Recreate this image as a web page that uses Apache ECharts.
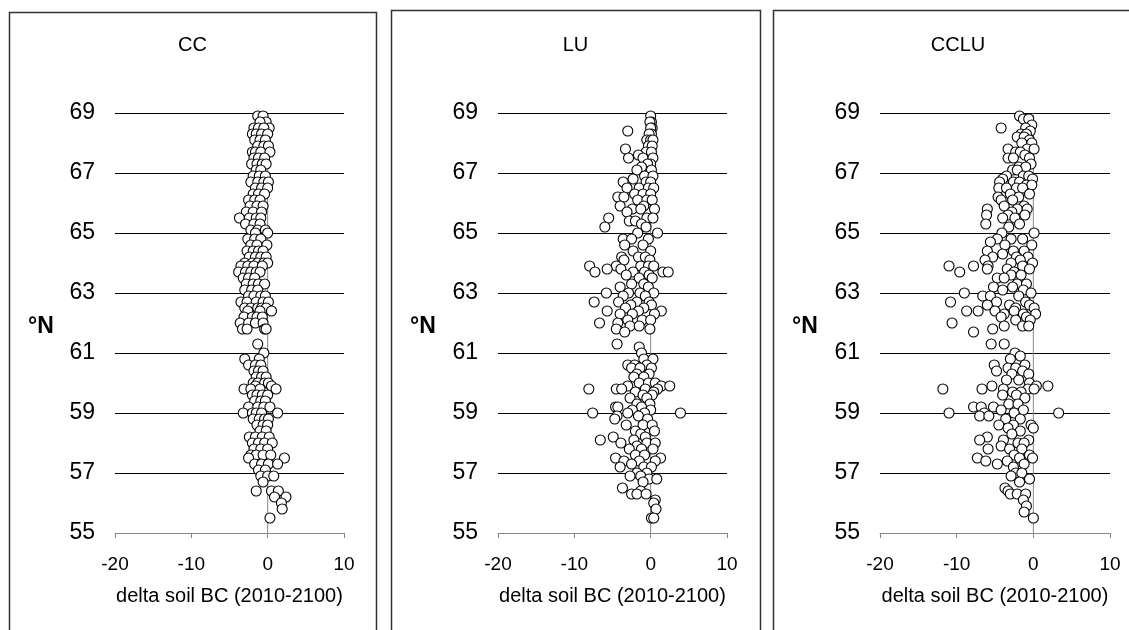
<!DOCTYPE html>
<html>
<head>
<meta charset="utf-8">
<script src="https://cdn.jsdelivr.net/npm/echarts@6/dist/echarts.min.js"></script>
<style>
html,body{margin:0;padding:0;background:#fff;}
#chart{width:1129px;height:630px;}
</style>
</head>
<body>
<div id="chart"></div>
<script>
// ---------- DATA ----------
const panelTitles = ['CC', 'LU', 'CCLU'];
const xTickValues = [-20, -10, 0, 10];
const yTickValues = [55, 57, 59, 61, 63, 65, 67, 69];
const xAxisTitle = 'delta soil BC (2010-2100)';
const yAxisTitle = '°N';

// rows: [latitude (°N), [delta soil BC values at that latitude]]
const ccRows = [
  [68.9, [-1.3, -0.6]], [68.7, [-0.2, -1.0]], [68.5, [0.2, -1.8, -1.2, -0.5]],
  [68.3, [-2.0, -1.5, -0.8, 0.0]], [68.1, [-1.7, -1.0, -0.3]], [67.9, [-1.3, -0.5, 0.1]],
  [67.7, [-2.0, -1.6, -0.9, 0.3]], [67.5, [-1.8, -1.2, -0.4]], [67.3, [-2.1, -1.4, -0.7, -0.2]],
  [67.1, [-1.5, -0.9]], [66.9, [-1.9, -1.1, -0.3]], [66.7, [-2.2, -1.3, -0.5, 0.1]],
  [66.5, [-1.6, -0.8, 0.0]], [66.3, [-1.9, -1.2, -0.4]], [66.1, [-2.5, -1.7, -1.0]],
  [65.9, [-2.3, -1.4, -0.6]], [65.7, [-2.8, -1.9, -0.8]], [65.5, [-3.7, -2.4, -1.5, -0.9]],
  [65.3, [-2.9, -1.8, -1.0]], [65.1, [-2.2, -1.3, -0.3]], [65.0, [-1.6, 0.0]],
  [64.8, [-2.6, -1.7, -0.9]], [64.6, [-2.2, -1.4, -0.1]], [64.4, [-2.7, -1.9, -1.2, -0.6]],
  [64.2, [-2.4, -1.6, -0.9, -0.2]], [64.0, [-3.0, -2.0, -1.3, -0.5, 0.0]],
  [63.9, [-3.5, -2.6, -1.8, -0.7]], [63.7, [-3.8, -2.9, -2.2, -1.5, -1.0]],
  [63.5, [-3.2, -2.5, -1.7]], [63.3, [-2.8, -1.9, -1.2, -0.4]], [63.1, [-3.0, -2.1, -1.3]],
  [62.9, [-2.5, -1.8, -0.9, -0.3]], [62.7, [-3.5, -2.7, -1.5, -0.6, 0.1]],
  [62.5, [-3.0, -2.2, -1.3, -0.8, -0.2]], [62.4, [-2.6, -1.0, 0.5]],
  [62.2, [-3.1, -2.0, -1.4, -0.7]], [62.0, [-3.6, -2.5, -1.6, -0.6]],
  [61.8, [-3.3, -2.7, -0.4, -0.2]], [61.3, [-1.3]], [61.0, [-0.5]],
  [60.8, [-3.0, -1.1]], [60.6, [-2.5, -1.6, -0.9]], [60.4, [-1.8, -1.2, -0.6]],
  [60.2, [-1.5, -0.8, -0.2]], [60.0, [-1.9, -1.3, -0.4, 0.1]], [59.9, [-1.6, 0.5]],
  [59.8, [-3.1, -2.2, -1.0, 1.1]], [59.6, [-2.0, -1.4, -0.7, 0.0]], [59.4, [-1.7, -0.9, -0.3]],
  [59.2, [-2.5, -1.3, -0.5, 0.3]], [59.0, [-3.2, -2.0, -1.5, -0.8, 1.3]],
  [58.8, [-1.9, -1.1, -0.4, 0.1]], [58.6, [-1.4, -0.6, 0.0]], [58.4, [-1.0, -0.2]],
  [58.2, [-2.4, -1.6, -0.7, 0.2]], [58.0, [-2.0, -1.2, -0.4, 0.6]], [57.8, [-1.8, -0.9, 0.0]],
  [57.6, [-2.2, -1.5, -0.6, 0.4]], [57.5, [-2.5, 2.2]], [57.3, [-1.7, -0.8, 0.1, 1.3]],
  [57.1, [-1.2, -0.3]], [56.9, [-0.9, 0.0, 0.8]], [56.7, [-0.6]],
  [56.4, [-1.5, 0.5, 1.4]], [56.2, [2.4, 0.9]], [56.0, [1.8]], [55.8, [1.9]], [55.5, [0.3]]
];

const luRows = [
  [68.9, [0.0]], [68.7, [0.1, -0.1]], [68.5, [0.2, 0.0]], [68.4, [-3.0]], [68.3, [0.1, -0.2]],
  [68.1, [-0.5, 0.0, 0.3]], [67.9, [-0.3, 0.2]], [67.8, [-3.3]], [67.7, [-0.6, 0.1]],
  [67.6, [-1.6]], [67.5, [-2.9, -1.0, 0.3]], [67.3, [0.0, -0.4]], [67.2, [-1.2]],
  [67.1, [-1.8, 0.1]], [66.9, [-0.8, 0.3]], [66.8, [-2.3]], [66.7, [-3.6, -0.6, 0.0]],
  [66.5, [-3.1, -1.5, -0.3, 0.4]], [66.3, [-2.1, -1.0, 0.0]], [66.2, [-4.3, -3.5]],
  [66.1, [-1.7, -0.5, 0.2]], [65.9, [-4.0, -0.9]], [65.8, [-2.4, -1.3, 0.5]], [65.7, [-3.1]],
  [65.5, [-5.5, -0.5, 0.3]], [65.4, [-2.8, -2.0]], [65.3, [-1.2]], [65.2, [-6.0, -0.6]],
  [65.0, [-1.7, 0.9]], [64.8, [-3.6, -2.5, -0.3]], [64.6, [-3.4, -1.0]], [64.4, [-2.3, 0.0]],
  [64.2, [-3.8, -1.6, -0.7]], [64.1, [-3.5, -0.1]], [63.9, [-8.0, -4.5, -1.3, -0.3, 0.4]],
  [63.8, [-5.7, -3.9]], [63.7, [-7.3, -2.3, -0.8, 1.6, 2.3]], [63.6, [-3.2, -0.2]],
  [63.5, [-1.5, 0.2]], [63.3, [-2.5, -0.9]], [63.2, [-4.0, -0.3]],
  [63.0, [-5.8, -2.9, -1.4, 0.4]], [62.9, [-3.6, -0.7]], [62.7, [-7.4, -4.2, -1.8, -0.2]],
  [62.6, [-2.6, 0.1]], [62.5, [-3.3, -0.9]], [62.4, [-5.7, -1.6, 1.4]],
  [62.3, [-4.0, -2.4, 0.5]], [62.1, [-3.0, -1.1, 0.0]], [62.0, [-6.7, -4.3]],
  [61.9, [-2.7, -1.5]], [61.8, [-4.5, -0.1]], [61.7, [-3.4]], [61.3, [-4.4]],
  [61.2, [-1.5]], [61.0, [-1.2]], [60.8, [-0.9, 0.3]], [60.6, [-3.0, -2.1, -0.5]],
  [60.5, [-2.5, -1.4, 0.1]], [60.3, [-1.8, -0.2]], [60.2, [-2.2, -0.9]],
  [60.0, [-1.5, -0.3, 0.6]], [59.9, [-3.0, 1.4, 2.5]], [59.8, [-8.1, -4.5, -3.8, -0.7, 0.9]],
  [59.7, [-2.0, 0.4]], [59.6, [-1.0, 0.2]], [59.5, [-2.7, -0.5]], [59.3, [-1.8, -0.1]],
  [59.2, [-4.6, -4.3, -1.2]], [59.1, [-2.4, 0.0]], [59.0, [-7.6, -3.0, -0.8, 3.9]],
  [58.9, [-4.4, -1.6]], [58.8, [-4.7, -0.4]], [58.6, [-3.2, -1.0, 0.2]], [58.4, [-2.0, 0.5]],
  [58.3, [-1.3]], [58.2, [-4.9, -0.7]], [58.1, [-6.6, -2.2]], [58.0, [-3.9, -0.5, 0.6]],
  [57.9, [-1.8]], [57.8, [-2.8, -1.2, 0.3]], [57.6, [-2.0, -0.8]], [57.5, [-4.6, 1.3]],
  [57.4, [-3.5, -1.5, 0.6]], [57.3, [-2.5]], [57.2, [-4.0, -0.9, 0.1]], [57.0, [-1.8, -0.5]],
  [56.9, [-2.7, -1.3]], [56.8, [-0.2, 0.8]], [56.7, [-1.0]], [56.5, [-3.7]], [56.4, [-1.3]],
  [56.3, [-2.5, -1.8, -0.6]], [56.1, [0.6]], [56.0, [0.4]], [55.8, [0.7]], [55.5, [0.1, 0.4]]
];

const ccluRows = [
  [68.9, [-1.8]], [68.8, [-1.3, -0.6]], [68.6, [-0.2]], [68.5, [-4.2, -1.0]], [68.4, [-0.4]],
  [68.3, [-1.6, -0.9]], [68.2, [-2.1, -1.2]], [68.1, [-0.5]], [68.0, [-1.5, -0.2]],
  [67.8, [-3.3, -0.8, 0.1]], [67.7, [-2.3, -1.7]], [67.6, [-1.1]], [67.5, [-3.3, -2.6, -0.5]],
  [67.3, [-0.3]], [67.2, [-1.9, -1.0]], [67.1, [-2.7, -2.1]], [66.9, [-3.5, -1.3, -0.6]],
  [66.8, [-4.0, -0.1]], [66.7, [-4.4, -2.6, -1.8]], [66.6, [-0.9, -0.2]],
  [66.5, [-4.5, -3.5, -2.2, -1.4]], [66.3, [-3.0, -0.5]], [66.2, [-4.6, -1.9]],
  [66.1, [-4.2, -2.7]], [65.9, [-3.8, -1.2]], [65.8, [-6.0, -2.1, -0.8]], [65.7, [-2.8]],
  [65.6, [-6.1, -3.3, -1.1]], [65.5, [-4.0, -2.4]], [65.3, [-6.2, -1.8]], [65.2, [-3.2]],
  [65.0, [-4.1, 0.1]], [64.8, [-4.7, -2.9, -1.4]], [64.7, [-5.6]], [64.6, [-3.7, -0.2]],
  [64.4, [-6.0, -2.6, -1.2]], [64.3, [-4.0]], [64.2, [-5.3, -2.2, -0.7]], [64.1, [-6.3, -1.7]],
  [64.0, [-2.9, -0.1]], [63.9, [-11.0, -7.8, -5.9, -1.4]], [63.8, [-6.0, -3.4, -0.5]],
  [63.7, [-9.6, -2.5]], [63.6, [-2.9, -1.6]], [63.5, [-4.7, -3.8]], [63.3, [-2.1, -0.9]],
  [63.2, [-5.2, -2.7]], [63.1, [-4.0, -1.3]], [63.0, [-9.0, -0.3]], [62.9, [-6.6, -5.6, -1.9]],
  [62.7, [-10.8, -4.8, -1.0]], [62.6, [-6.0, -3.1, -0.5]], [62.5, [-2.3, 0.1]],
  [62.4, [-8.7, -7.2, -5.0, -2.5]], [62.3, [-3.8, -1.3, 0.3]], [62.2, [-4.2, -0.9]],
  [62.1, [-2.3, -0.4]], [62.0, [-10.6]], [61.9, [-3.8, -1.4, -0.6]], [61.8, [-5.3]],
  [61.7, [-7.8]], [61.3, [-5.5, -3.8]], [61.0, [-2.4]], [60.9, [-1.7]], [60.8, [-3.0]],
  [60.6, [-5.1, -1.1]], [60.5, [-3.3, -2.3]], [60.4, [-4.8, -1.4]], [60.3, [-2.8, -0.6]],
  [60.1, [-3.5, -1.9]], [60.0, [-0.5]], [59.9, [-5.4, 0.4, 1.9]],
  [59.8, [-11.8, -6.7, -3.9, -0.7, 0.1]], [59.7, [-2.7, -1.6]], [59.6, [-4.0, -2.2]],
  [59.5, [-1.1]], [59.3, [-3.2, -2.0]], [59.2, [-7.8, -6.8, -5.2]], [59.1, [-4.2, -1.3]],
  [59.0, [-11.0, -6.4, -2.5, 3.3]], [58.9, [-7.0, -5.8]], [58.8, [-3.6, -1.7]],
  [58.6, [-4.5, -2.6, -0.3]], [58.5, [-3.3, 0.0]], [58.4, [-1.7]], [58.3, [-2.8]],
  [58.2, [-6.0]], [58.1, [-7.0, -3.9, -0.6]], [58.0, [-2.0, -1.2]], [57.9, [-4.2]],
  [57.8, [-5.9, -3.1, -1.5]], [57.6, [-2.5, -0.5]], [57.5, [-7.3, -1.8, -0.1]],
  [57.4, [-6.2, -3.4]], [57.3, [-4.7, -1.2]], [57.2, [-2.6]], [57.0, [-2.3, -1.5]],
  [56.9, [-2.9]], [56.8, [-0.5]], [56.7, [-1.8]], [56.5, [-3.7]], [56.4, [-3.3]],
  [56.3, [-3.0, -2.1, -1.0]], [56.1, [-1.3]], [55.9, [-0.9]], [55.7, [-1.2]], [55.5, [0.0]]
];

const zeroLine = [[0, 55], [0, 69]];

// ---------- BUILD ----------
function toPairs(rows) {
  const out = [];
  rows.forEach(r => r[1].forEach(v => out.push([v, r[0]])));
  return out;
}
const panelData = [toPairs(ccRows), toPairs(luRows), toPairs(ccluRows)];

const FONT = "'Liberation Sans', Arial, sans-serif";
const gridDefs = [
  { left: 115, width: 229 },
  { left: 498, width: 229 },
  { left: 880, width: 230 }
];
const boxDefs = [
  { x: 9, y: 12, w: 367 },
  { x: 391, y: 10, w: 369 },
  { x: 773, y: 10, w: 370 }
];

const grids = [], xAxes = [], yAxes = [], series = [], graphics = [];
gridDefs.forEach((g, i) => {
  grids.push({ left: g.left, width: g.width, top: 113, height: 420 });
  xAxes.push({
    type: 'value', gridIndex: i, min: xTickValues[0], max: xTickValues[xTickValues.length - 1], interval: 10,
    axisLine: { show: true, onZero: false, lineStyle: { color: '#868686', width: 1 } },
    axisTick: { show: true, length: 5, inside: false, lineStyle: { color: '#868686' } },
    axisLabel: { color: '#000', fontSize: 19, fontFamily: FONT, margin: 22 },
    splitLine: { show: false },
    name: xAxisTitle, nameLocation: 'middle', nameGap: 53,
    nameTextStyle: { color: '#000', fontSize: 20, fontFamily: FONT }
  });
  yAxes.push({
    type: 'value', gridIndex: i, min: yTickValues[0], max: yTickValues[yTickValues.length - 1], interval: 2,
    axisLine: { show: false },
    axisTick: { show: false },
    axisLabel: { color: '#000', fontSize: 23, fontFamily: FONT, margin: 20 },
    splitLine: { show: true, lineStyle: { color: ['rgba(0,0,0,0)', '#000', '#000', '#000', '#000', '#000', '#000', '#000'], width: 1 } }
  });
  series.push({
    type: 'line', xAxisIndex: i, yAxisIndex: i, data: zeroLine, symbol: 'none', silent: true,
    lineStyle: { color: '#868686', width: 1 }, z: 1, animation: false
  });
  series.push({
    type: 'scatter', xAxisIndex: i, yAxisIndex: i, data: panelData[i],
    symbol: 'circle', symbolSize: 10,
    itemStyle: { color: '#fff', borderColor: '#000', borderWidth: 1.1, opacity: 1 },
    z: 3, animation: false
  });
  const b = boxDefs[i];
  graphics.push({
    type: 'rect', shape: { x: b.x + 0.5, y: b.y + 0.5, width: b.w, height: 700 },
    style: { fill: 'none', stroke: '#333', lineWidth: 1.5 }, silent: true, z: 0
  });
  graphics.push({
    type: 'text', x: b.x + b.w / 2, y: 45,
    style: { text: panelTitles[i], fontSize: 20, fontFamily: FONT, fill: '#000', textAlign: 'center', textVerticalAlign: 'middle' }
  });
  graphics.push({
    type: 'text', x: b.x + 19, y: 327,
    style: { text: yAxisTitle, fontSize: 23, fontWeight: 'bold', fontFamily: FONT, fill: '#000', textAlign: 'left', textVerticalAlign: 'middle' }
  });
});

const chart = echarts.init(document.getElementById('chart'), null, { renderer: 'canvas' });
chart.setOption({
  backgroundColor: '#fff',
  animation: false,
  grid: grids,
  xAxis: xAxes,
  yAxis: yAxes,
  series: series,
  graphic: graphics
});
</script>
</body>
</html>
